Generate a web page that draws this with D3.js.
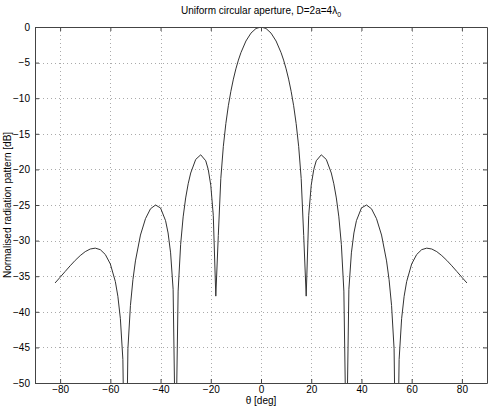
<!DOCTYPE html>
<html>
<head>
<meta charset="utf-8">
<script src="https://cdn.jsdelivr.net/npm/d3@7"></script>
<style>
  body { margin: 0; background: #fff; }
  text { font-family: "Liberation Sans", Arial, sans-serif; fill: #000; }
</style>
</head>
<body>
<div id="chart"></div>
<script>
// angles [deg] and normalised pattern [dB]
var thetaDeg = [
  -82, -80, -78, -76, -74, -72, -70, -68, -66, -64, -62, -60, -58, -57, -56, -55, -54, -53, -52, -51, -50,
  -48, -46, -44, -42, -40, -38, -37, -36, -35, -34, -33, -32, -31, -30, -29, -28, -26, -24, -22, -21, -20,
  -19, -18, -17, -16, -15, -14, -13, -12, -11, -10, -9, -8, -6, -4, -2,
  0,
  2, 4, 6, 8, 9, 10, 11, 12, 13, 14, 15, 16, 17, 18, 19,
  20, 21, 22, 24, 26, 28, 29, 30, 31, 32, 33, 34, 35, 36, 37, 38, 40, 42, 44, 46, 48,
  50, 51, 52, 53, 54, 55, 56, 57, 58, 60, 62, 64, 66, 68, 70, 72, 74, 76, 78, 80, 82
];
var patternDb = [
  -35.95, -35.15, -34.34, -33.54, -32.78, -32.11, -31.55, -31.18, -31.06, -31.27, -31.95, -33.28, -35.76, -37.82, -40.97, -46.71, -72.2, -45.19, -39.12, -35.48, -32.85,
  -29.22, -26.92, -25.53, -25.00, -25.42, -27.20, -28.93, -31.72, -36.84, -61.0, -37.09, -30.52, -26.67, -24.01, -22.02, -20.51, -18.60, -17.95, -18.79, -20.03, -22.22,
  -26.45, -37.8, -29.27, -21.27, -16.76, -13.56, -11.06, -9.03, -7.32, -5.88, -4.65, -3.61, -1.97, -0.86, -0.21,
  0,
  -0.21, -0.86, -1.97, -3.61, -4.65, -5.88, -7.32, -9.03, -11.06, -13.56, -16.76, -21.27, -29.27, -37.8, -26.45,
  -22.22, -20.03, -18.79, -17.95, -18.60, -20.51, -22.02, -24.01, -26.67, -30.52, -37.09, -61.0, -36.84, -31.72, -28.93, -27.20, -25.42, -25.00, -25.53, -26.92, -29.22,
  -32.85, -35.48, -39.12, -45.19, -72.2, -46.71, -40.97, -37.82, -35.76, -33.28, -31.95, -31.27, -31.06, -31.18, -31.55, -32.11, -32.78, -33.54, -34.34, -35.15, -35.95
];
var xTicks = [-80, -60, -40, -20, 0, 20, 40, 60, 80];
var yTicks = [0, -5, -10, -15, -20, -25, -30, -35, -40, -45, -50];

var width = 491, height = 411;
var mLeft = 35, mRight = 4, mTop = 27, mBottom = 28;
var w = width - mLeft - mRight,
    h = height - mTop - mBottom;

var svg = d3.select("#chart").append("svg").attr("width", width).attr("height", height);
var g = svg.append("g").attr("transform", "translate(" + mLeft + "," + mTop + ")");

var x = d3.scaleLinear().domain([-90, 90]).range([0, w]);
var y = d3.scaleLinear().domain([-50, 0]).range([h, 0]);

// dotted grid
g.append("g").selectAll("line").data(xTicks).enter().append("line")
  .attr("x1", function(d) { return Math.round(x(d)) + 0.5; })
  .attr("x2", function(d) { return Math.round(x(d)) + 0.5; })
  .attr("y1", 0).attr("y2", h)
  .attr("stroke", "#aaa").attr("stroke-dasharray", "1,3");
g.append("g").selectAll("line").data(yTicks.filter(function(d) { return d > -50 && d < 0; })).enter().append("line")
  .attr("y1", function(d) { return Math.round(y(d)) + 0.5; })
  .attr("y2", function(d) { return Math.round(y(d)) + 0.5; })
  .attr("x1", 0).attr("x2", w)
  .attr("stroke", "#aaa").attr("stroke-dasharray", "1,3");

// curve, clipped to the axes box
svg.append("clipPath").attr("id", "box").append("rect")
  .attr("x", 0).attr("y", 0).attr("width", w).attr("height", h);
var pts = thetaDeg.map(function(t, i) { return [t, patternDb[i]]; });
var line = d3.line().x(function(d) { return x(d[0]); }).y(function(d) { return y(d[1]); });
g.append("path").datum(pts)
  .attr("clip-path", "url(#box)")
  .attr("d", line)
  .attr("fill", "none").attr("stroke", "#333").attr("stroke-width", 1);

// axes, matlab style: ticks inside, box all round
function fmt(d) { return d < 0 ? "\u2212" + Math.abs(d) : "" + d; }
var axB = g.append("g").attr("transform", "translate(0," + h + ")")
  .call(d3.axisBottom(x).tickValues(xTicks).tickSizeInner(-4).tickSizeOuter(0).tickPadding(3).tickFormat(fmt));
var axT = g.append("g")
  .call(d3.axisTop(x).tickValues(xTicks).tickSizeInner(-4).tickSizeOuter(0).tickFormat(""));
var axL = g.append("g")
  .call(d3.axisLeft(y).tickValues(yTicks).tickSizeInner(-4).tickSizeOuter(0).tickPadding(5).tickFormat(fmt));
var axR = g.append("g").attr("transform", "translate(" + w + ",0)")
  .call(d3.axisRight(y).tickValues(yTicks).tickSizeInner(-4).tickSizeOuter(0).tickFormat(""));
[axB, axT, axL, axR].forEach(function(a) {
  a.select(".domain").attr("stroke", "#444");
  a.selectAll(".tick line").attr("stroke", "#444");
  a.selectAll("text").attr("font-size", 10).attr("font-family", "Liberation Sans, Arial, sans-serif").attr("fill", "#000");
});

// titles
var title = svg.append("text").attr("x", mLeft + w / 2).attr("y", 14)
  .attr("text-anchor", "middle").attr("font-size", 10);
title.append("tspan").text("Uniform circular aperture, D=2a=4\u03bb");
title.append("tspan").attr("font-size", 7).attr("dy", 3).text("0");

svg.append("text").attr("x", mLeft + w / 2).attr("y", 404)
  .attr("text-anchor", "middle").attr("font-size", 10).text("\u03b8 [deg]");

svg.append("text").attr("transform", "translate(11," + (mTop + h / 2) + ") rotate(-90)")
  .attr("text-anchor", "middle").attr("font-size", 10).text("Normalised radiation pattern [dB]");
</script>
</body>
</html>
